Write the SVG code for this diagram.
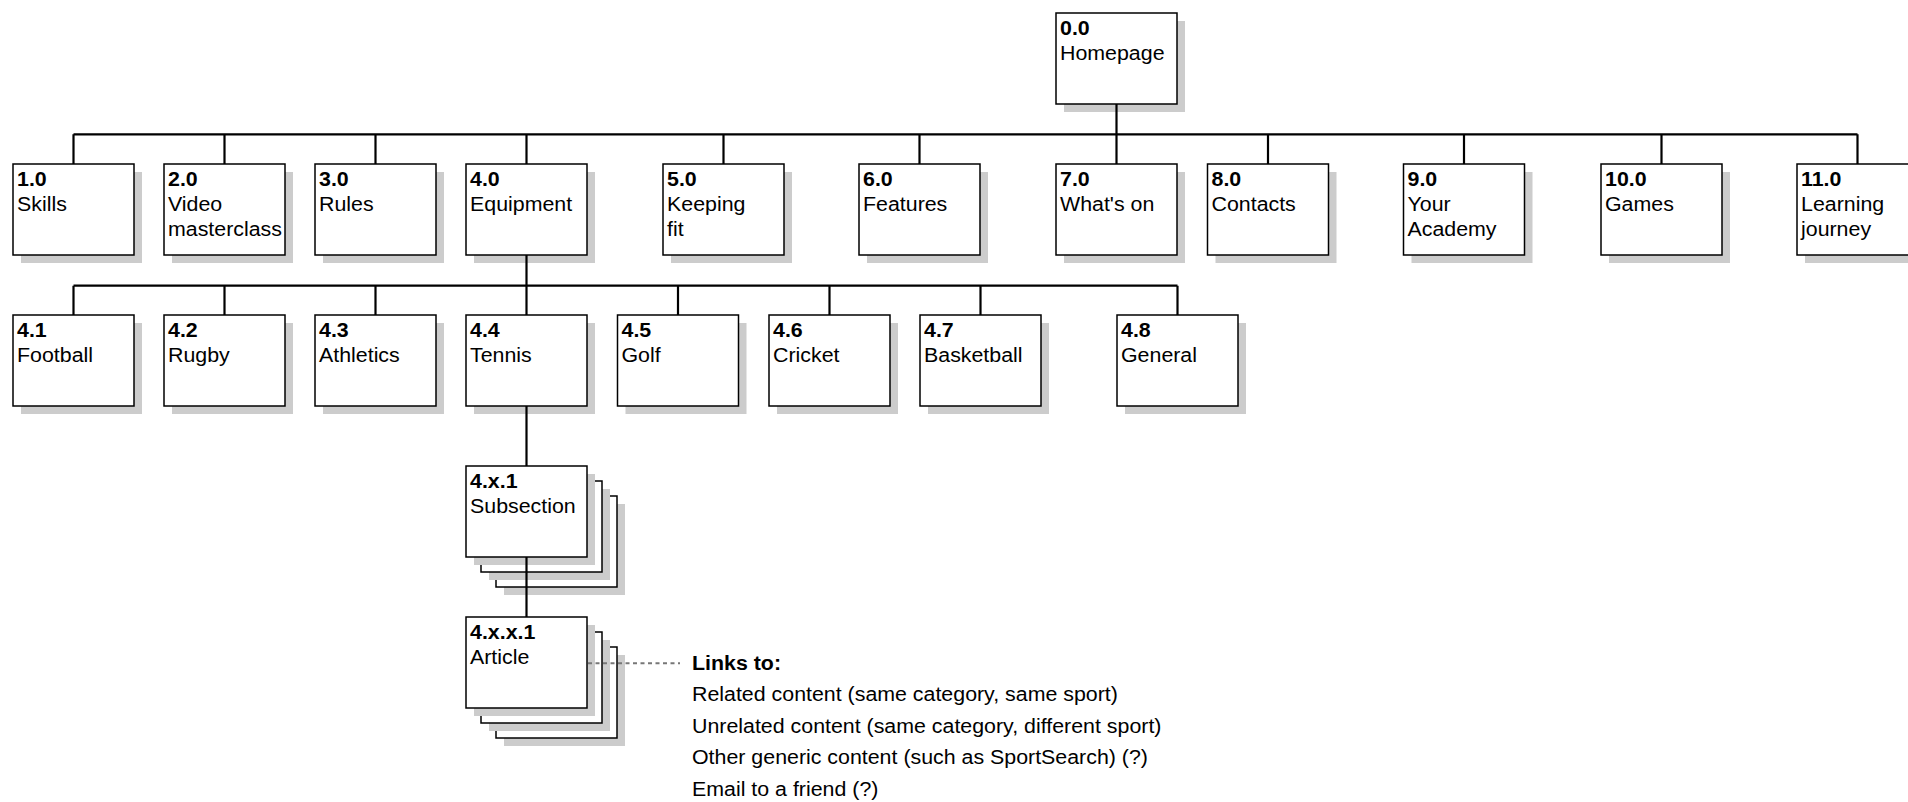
<svg xmlns="http://www.w3.org/2000/svg" width="1908" height="802" viewBox="0 0 1908 802">
<style>
.sh{fill:#cccccc;stroke:none}
.bx{fill:#ffffff;stroke:#000000;stroke-width:1.5}
text{font-family:"Liberation Sans",Arial,sans-serif;font-size:19.6px;fill:#000000}
.b{font-weight:bold}
.ln{fill:none;stroke:#000000;stroke-width:2.2}
.dash{fill:none;stroke:#777777;stroke-width:2;stroke-dasharray:4 3.5}
</style>
<rect x="0" y="0" width="1908" height="802" fill="#ffffff"/>

<g id="n0-0"><rect class="sh" x="1064" y="21" width="121" height="91"/><rect class="bx" x="1056" y="13" width="121" height="91"/><text transform="translate(1060 35) scale(1.09 1)"><tspan class="b" x="0" y="0">0.0</tspan><tspan x="0" y="25">Homepage</tspan></text></g>

<g id="n1-0"><rect class="sh" x="21" y="172" width="121" height="91"/><rect class="bx" x="13" y="164" width="121" height="91"/><text transform="translate(17 186) scale(1.09 1)"><tspan class="b" x="0" y="0">1.0</tspan><tspan x="0" y="25">Skills</tspan></text></g>
<g id="n2-0"><rect class="sh" x="172" y="172" width="121" height="91"/><rect class="bx" x="164" y="164" width="121" height="91"/><text transform="translate(168 186) scale(1.09 1)"><tspan class="b" x="0" y="0">2.0</tspan><tspan x="0" y="25">Video</tspan><tspan x="0" y="50">masterclass</tspan></text></g>
<g id="n3-0"><rect class="sh" x="323" y="172" width="121" height="91"/><rect class="bx" x="315" y="164" width="121" height="91"/><text transform="translate(319 186) scale(1.09 1)"><tspan class="b" x="0" y="0">3.0</tspan><tspan x="0" y="25">Rules</tspan></text></g>
<g id="n4-0"><rect class="sh" x="474" y="172" width="121" height="91"/><rect class="bx" x="466" y="164" width="121" height="91"/><text transform="translate(470 186) scale(1.09 1)"><tspan class="b" x="0" y="0">4.0</tspan><tspan x="0" y="25">Equipment</tspan></text></g>
<g id="n5-0"><rect class="sh" x="671" y="172" width="121" height="91"/><rect class="bx" x="663" y="164" width="121" height="91"/><text transform="translate(667 186) scale(1.09 1)"><tspan class="b" x="0" y="0">5.0</tspan><tspan x="0" y="25">Keeping</tspan><tspan x="0" y="50">fit</tspan></text></g>
<g id="n6-0"><rect class="sh" x="867" y="172" width="121" height="91"/><rect class="bx" x="859" y="164" width="121" height="91"/><text transform="translate(863 186) scale(1.09 1)"><tspan class="b" x="0" y="0">6.0</tspan><tspan x="0" y="25">Features</tspan></text></g>
<g id="n7-0"><rect class="sh" x="1064" y="172" width="121" height="91"/><rect class="bx" x="1056" y="164" width="121" height="91"/><text transform="translate(1060 186) scale(1.09 1)"><tspan class="b" x="0" y="0">7.0</tspan><tspan x="0" y="25">What's on</tspan></text></g>
<g id="n8-0"><rect class="sh" x="1215.5" y="172" width="121" height="91"/><rect class="bx" x="1207.5" y="164" width="121" height="91"/><text transform="translate(1211.5 186) scale(1.09 1)"><tspan class="b" x="0" y="0">8.0</tspan><tspan x="0" y="25">Contacts</tspan></text></g>
<g id="n9-0"><rect class="sh" x="1411.5" y="172" width="121" height="91"/><rect class="bx" x="1403.5" y="164" width="121" height="91"/><text transform="translate(1407.5 186) scale(1.09 1)"><tspan class="b" x="0" y="0">9.0</tspan><tspan x="0" y="25">Your</tspan><tspan x="0" y="50">Academy</tspan></text></g>
<g id="n10-0"><rect class="sh" x="1609" y="172" width="121" height="91"/><rect class="bx" x="1601" y="164" width="121" height="91"/><text transform="translate(1605 186) scale(1.09 1)"><tspan class="b" x="0" y="0">10.0</tspan><tspan x="0" y="25">Games</tspan></text></g>
<g id="n11-0"><rect class="sh" x="1805" y="172" width="121" height="91"/><rect class="bx" x="1797" y="164" width="121" height="91"/><text transform="translate(1801 186) scale(1.09 1)"><tspan class="b" x="0" y="0">11.0</tspan><tspan x="0" y="25">Learning</tspan><tspan x="0" y="50">journey</tspan></text></g>

<g id="n4-1"><rect class="sh" x="21" y="323" width="121" height="91"/><rect class="bx" x="13" y="315" width="121" height="91"/><text transform="translate(17 337) scale(1.09 1)"><tspan class="b" x="0" y="0">4.1</tspan><tspan x="0" y="25">Football</tspan></text></g>
<g id="n4-2"><rect class="sh" x="172" y="323" width="121" height="91"/><rect class="bx" x="164" y="315" width="121" height="91"/><text transform="translate(168 337) scale(1.09 1)"><tspan class="b" x="0" y="0">4.2</tspan><tspan x="0" y="25">Rugby</tspan></text></g>
<g id="n4-3"><rect class="sh" x="323" y="323" width="121" height="91"/><rect class="bx" x="315" y="315" width="121" height="91"/><text transform="translate(319 337) scale(1.09 1)"><tspan class="b" x="0" y="0">4.3</tspan><tspan x="0" y="25">Athletics</tspan></text></g>
<g id="n4-4"><rect class="sh" x="474" y="323" width="121" height="91"/><rect class="bx" x="466" y="315" width="121" height="91"/><text transform="translate(470 337) scale(1.09 1)"><tspan class="b" x="0" y="0">4.4</tspan><tspan x="0" y="25">Tennis</tspan></text></g>
<g id="n4-5"><rect class="sh" x="625.5" y="323" width="121" height="91"/><rect class="bx" x="617.5" y="315" width="121" height="91"/><text transform="translate(621.5 337) scale(1.09 1)"><tspan class="b" x="0" y="0">4.5</tspan><tspan x="0" y="25">Golf</tspan></text></g>
<g id="n4-6"><rect class="sh" x="777" y="323" width="121" height="91"/><rect class="bx" x="769" y="315" width="121" height="91"/><text transform="translate(773 337) scale(1.09 1)"><tspan class="b" x="0" y="0">4.6</tspan><tspan x="0" y="25">Cricket</tspan></text></g>
<g id="n4-7"><rect class="sh" x="928" y="323" width="121" height="91"/><rect class="bx" x="920" y="315" width="121" height="91"/><text transform="translate(924 337) scale(1.09 1)"><tspan class="b" x="0" y="0">4.7</tspan><tspan x="0" y="25">Basketball</tspan></text></g>
<g id="n4-8"><rect class="sh" x="1125" y="323" width="121" height="91"/><rect class="bx" x="1117" y="315" width="121" height="91"/><text transform="translate(1121 337) scale(1.09 1)"><tspan class="b" x="0" y="0">4.8</tspan><tspan x="0" y="25">General</tspan></text></g>

<g id="n4-x-1">
<rect class="sh" x="504" y="504" width="121" height="91"/><rect class="bx" x="496" y="496" width="121" height="91"/>
<rect class="sh" x="489" y="489" width="121" height="91"/><rect class="bx" x="481" y="481" width="121" height="91"/>
<rect class="sh" x="474" y="474" width="121" height="91"/><rect class="bx" x="466" y="466" width="121" height="91"/>
<text transform="translate(470 488) scale(1.09 1)"><tspan class="b" x="0" y="0">4.x.1</tspan><tspan x="0" y="25">Subsection</tspan></text>
</g>

<g id="n4-x-x-1">
<rect class="sh" x="504" y="655" width="121" height="91"/><rect class="bx" x="496" y="647" width="121" height="91"/>
<rect class="sh" x="489" y="640" width="121" height="91"/><rect class="bx" x="481" y="632" width="121" height="91"/>
<rect class="sh" x="474" y="625" width="121" height="91"/><rect class="bx" x="466" y="617" width="121" height="91"/>
<text transform="translate(470 639) scale(1.09 1)"><tspan class="b" x="0" y="0">4.x.x.1</tspan><tspan x="0" y="25">Article</tspan></text>
</g>

<g id="connectors">
<path class="ln" d="M1116.5 104V134.3M73.5 134.3H1857.5M73.5 134.3V164M224.5 134.3V164M375.5 134.3V164M526.5 134.3V164M723.5 134.3V164M919.5 134.3V164M1116.5 134.3V164M1268 134.3V164M1464 134.3V164M1661.5 134.3V164M1857.5 134.3V164"/>
<path class="ln" d="M526.5 255V285.7M73.5 285.7H1177.5M73.5 285.7V315M224.5 285.7V315M375.5 285.7V315M526.5 285.7V315M678 285.7V315M829.5 285.7V315M980.5 285.7V315M1177.5 285.7V315"/>
<path class="ln" d="M526.5 406V466M526.5 557V617"/>
<path class="dash" d="M588 663.3H680"/>
</g>

<g id="links-note">
<text transform="translate(692 670) scale(1.09 1)"><tspan class="b" x="0" y="0">Links to:</tspan><tspan x="0" y="31.5">Related content (same category, same sport)</tspan><tspan x="0" y="63">Unrelated content (same category, different sport)</tspan><tspan x="0" y="94.5">Other generic content (such as SportSearch) (?)</tspan><tspan x="0" y="126">Email to a friend (?)</tspan></text>
</g>
</svg>
